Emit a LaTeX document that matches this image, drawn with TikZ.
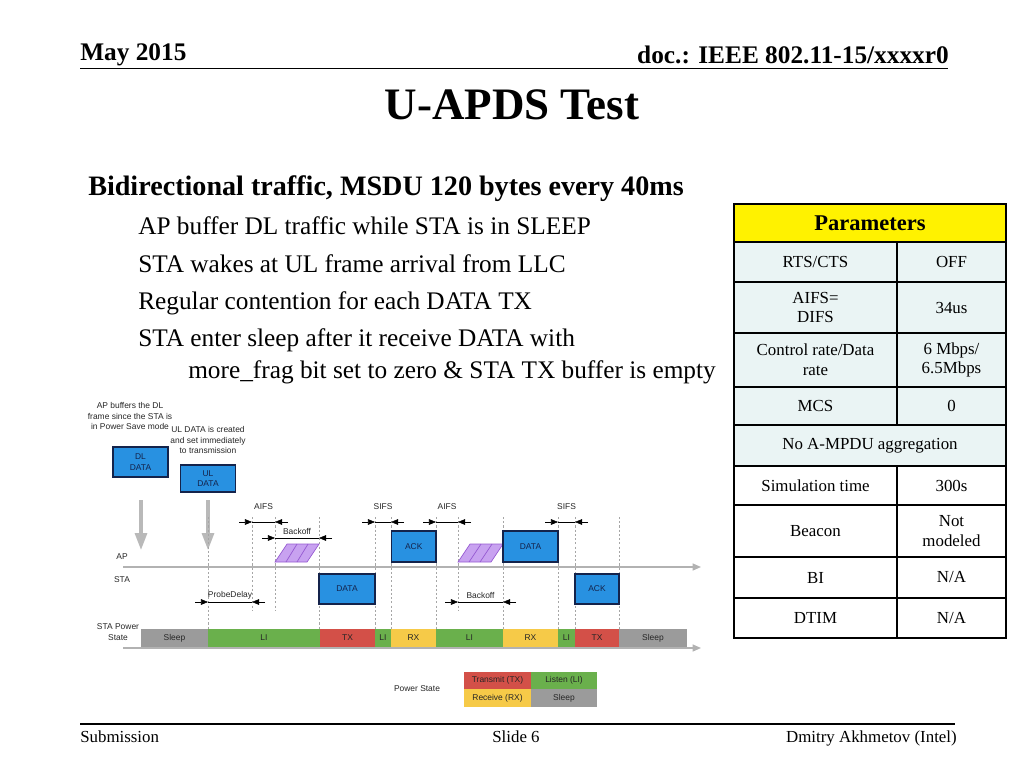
\documentclass[tikz,border=0pt]{standalone}
\usepackage{fontspec}
\setmainfont{Liberation Serif}
\newfontfamily\diagfont{Liberation Sans}
\usepackage{tikz}
\usetikzlibrary{positioning, arrows.meta}

\definecolor{boxblue}{RGB}{40,145,225}
\definecolor{boxedge}{RGB}{20,35,75}
\definecolor{lgreen}{RGB}{106,176,76}
\definecolor{lred}{RGB}{211,80,72}
\definecolor{lyellow}{RGB}{246,202,72}
\definecolor{lgray}{RGB}{155,155,155}
\definecolor{lpurple}{RGB}{200,162,240}
\definecolor{ledge}{RGB}{150,90,210}
\definecolor{cellcyan}{RGB}{234,244,244}

\newcommand\pxu{0.025cm}
% dimension arrows between two markers
\newcommand\dimspan[3]{%
  \draw[dimtip] (#1-13,#3) -- (#1,#3);
  \draw[line width=0.4pt] (#1,#3) -- (#2,#3);
  \draw[dimtip] (#2+13,#3) -- (#2,#3);}

\begin{document}
\begin{tikzpicture}[
        x=0.025cm, y=-0.025cm,
        hdr/.style={font=\bfseries\fontsize{18}{20}\selectfont, inner sep=0pt},
        bullet/.style={anchor=base west, font=\fontsize{18}{21}\selectfont, inner sep=0pt},
        cell/.style={draw=black, line width=1pt, font=\fontsize{12}{14}\selectfont, align=center, inner sep=0pt},
        tiny/.style={font=\diagfont\fontsize{6}{7.5}\selectfont, text=black!85, inner sep=0pt, align=center},
        frame/.style={draw=boxedge, fill=boxblue, line width=0.8pt, font=\diagfont\fontsize{6}{7.5}\selectfont, text=boxedge, align=center, inner sep=0pt},
        seg/.style={fill=#1, font=\diagfont\fontsize{6}{7}\selectfont, text=black!85, inner sep=0pt, minimum height=18*\pxu},
        marker/.style={draw=gray!70, dash pattern=on 1.5pt off 1.5pt, line width=0.5pt},
        dimtip/.style={-{Triangle[length=5pt,width=4pt]}, line width=0.4pt},
        backoff/.style={draw=ledge, fill=lpurple, line width=0.5pt},
        timeline/.style={draw=gray!60, line width=1pt, -{Triangle[length=6pt,width=5pt]}},
        wake/.style={draw=gray!55, line width=2.2pt, -{Triangle[length=12pt,width=8.5pt]}}
        ]
        \useasboundingbox (0,0) rectangle (1024,768);

        % Header
        \node[hdr, anchor=base west] (date) at (80,61) {May 2015};
        \node[hdr, anchor=base east] (doc) at (949,64) {doc.: IEEE 802.11-15/xxxxr0};
        \draw[line width=1pt] (80,68.5) -- (948,68.5);
        \node[anchor=base, inner sep=0pt, font=\bfseries\fontsize{32}{36}\selectfont] (title) at (512,120) {U-APDS Test};

        % Text
        \node[anchor=base west, inner sep=0pt, font=\bfseries\fontsize{20}{24}\selectfont] (lead) at (88,195) {Bidirectional traffic, MSDU 120 bytes every 40ms};
        \node[bullet] (b1) at (138,234) {AP buffer DL traffic while STA is in SLEEP};
        \node[bullet] (b2) at (138,272) {STA wakes at UL frame arrival from LLC};
        \node[bullet] (b3) at (138,309) {Regular contention for each DATA TX};
        \node[bullet] (b4) at (138,346) {STA enter sleep after it receive DATA with};
        \node[bullet] (b5) at (188,378) {more\_frag bit set to zero \& STA TX buffer is empty};

        % Parameters table
        \node[cell, fill=yellow, minimum width=272*\pxu, minimum height=38*\pxu, font=\bfseries\fontsize{16}{18}\selectfont] (par) at (870,223) {Parameters};
        \foreach \t/\b/\l/\v/\c [count=\i] in {
            242/282/{RTS/CTS}/OFF/cellcyan,
            282/333/{AIFS=\\DIFS}/34us/cellcyan,
            333/387/{Control rate/Data\\rate}/{6 Mbps/\\6.5Mbps}/cellcyan,
            387/425/MCS/0/cellcyan,
            466/505/Simulation time/300s/white,
            505/557/Beacon/{Not\\modeled}/white,
            557/598/BI/{N/A}/white,
            598/638/DTIM/{N/A}/white}
        {
            \node[cell, fill=\c, minimum width=163*\pxu, minimum height=(\b-\t)*\pxu] (k\i) at (815.5,{(\t+\b)/2}) {\l};
            \node[cell, fill=\c, minimum width=109*\pxu, minimum height=(\b-\t)*\pxu] (v\i) at (951.5,{(\t+\b)/2}) {\v};
        }
        \node[cell, fill=cellcyan, minimum width=272*\pxu, minimum height=41*\pxu] (ampdu) at (870,445.5) {No A-MPDU aggregation};

        % Notes and buffered frames
        \node[tiny] (note1) at (130,416) {AP buffers the DL\\frame since the STA is\\in Power Save mode};
        \node[tiny] (note2) at (208,440) {UL DATA is created\\and set immediately\\to transmission};
        \node[frame, minimum width=55*\pxu, minimum height=30*\pxu] (dl) at (140.5,462) {DL\\DATA};
        \node[frame, minimum width=55*\pxu, minimum height=27*\pxu] (ul) at (208,478.5) {UL\\DATA};

        % Wake arrows
        \coordinate (dltop) at (141,500);
        \coordinate (dlend) at (141,550);
        \coordinate (ultop) at (208,500);
        \coordinate (ulend) at (208,550);
        \draw[wake] (dltop) -- (dlend);
        \draw[wake] (ultop) -- (ulend);

        % Markers
        \foreach \x in {208,319,375,391,436,503,558,575,619}
            \draw[marker] (\x,517) -- (\x,629);
        \foreach \x in {252,275,458}
            \draw[marker] (\x,517) -- (\x,610);

        % Time lines
        \coordinate (apstart) at (123,567);
        \coordinate (apend) at (701,567);
        \coordinate (psstart) at (123,648);
        \coordinate (psend) at (701,648);
        \draw[timeline] (apstart) -- (apend);
        \node[tiny] (ap) at (122,557) {AP};
        \node[tiny] (sta) at (122,580) {STA};
        \node[tiny] (stps) at (118,632) {STA Power\\State};

        % Intervals
        \dimspan{252}{275}{522}
        \dimspan{375}{391}{522}
        \dimspan{436}{458}{522}
        \dimspan{558}{575}{522}
        \dimspan{275}{319}{538}
        \dimspan{208}{252}{602}
        \dimspan{458}{503}{602}
        \node[tiny, fill=white] (aifs1) at (263.5,507) {AIFS};
        \node[tiny, fill=white] (sifs1) at (383,507) {SIFS};
        \node[tiny, fill=white] (aifs2) at (447,507) {AIFS};
        \node[tiny, fill=white] (sifs2) at (566.5,507) {SIFS};
        \node[tiny] (bo1) at (297,531) {Backoff};
        \node[tiny] (probe) at (230,595) {ProbeDelay};
        \node[tiny] (bo2) at (480.5,595) {Backoff};

        % Backoff slots
        \filldraw[backoff] (275,562) -- (287,544) -- (319,544) -- (307,562) -- cycle;
        \draw[backoff] (286,562) -- (297,544) (297,562) -- (308,544);
        \filldraw[backoff] (458,562) -- (470,544) -- (503,544) -- (491,562) -- cycle;
        \draw[backoff] (469,562) -- (481,544) (480,562) -- (492,544);

        % Frames
        \node[frame, minimum width=44.5*\pxu, minimum height=31*\pxu] (apack) at (413.75,546.5) {ACK};
        \node[frame, minimum width=55*\pxu, minimum height=31*\pxu] (apdata) at (530.5,546.5) {DATA};
        \node[frame, minimum width=56*\pxu, minimum height=30*\pxu] (stadata) at (347,589) {DATA};
        \node[frame, minimum width=44*\pxu, minimum height=30*\pxu] (staack) at (597,589) {ACK};

        % Power state
        \foreach \a/\b/\c/\l [count=\i] in {141/208/lgray/Sleep, 208/320/lgreen/LI, 320/375/lred/TX,
                375/391/lgreen/LI, 391/436/lyellow/RX, 436/503/lgreen/LI, 503/558/lyellow/RX,
                558/575/lgreen/LI, 575/619/lred/TX, 619/687/lgray/Sleep}
            \node[seg=\c, minimum width=(\b-\a)*\pxu] (s\i) at ({(\a+\b)/2},638) {\l};
        \draw[timeline] (psstart) -- (psend);

        % Legend
        \node[tiny] (pslab) at (417,689) {Power State};
        \node[seg=lred, minimum width=67*\pxu, minimum height=17*\pxu] (ltx) at (497.5,680.5) {Transmit (TX)};
        \node[seg=lgreen, minimum width=66*\pxu, minimum height=17*\pxu] (lli) at (564,680.5) {Listen (LI)};
        \node[seg=lyellow, minimum width=67*\pxu, minimum height=18*\pxu] (lrx) at (497.5,698) {Receive (RX)};
        \node[seg=lgray, minimum width=66*\pxu, minimum height=18*\pxu] (lsl) at (564,698) {Sleep};

        % Footer
        \draw[line width=0.8pt] (80,724) -- (955,724);
        \node[anchor=base west, inner sep=0pt, font=\fontsize{12}{14}\selectfont] (sub) at (80,742) {Submission};
        \node[anchor=base, inner sep=0pt, font=\fontsize{12}{14}\selectfont] (slide) at (516,742) {Slide 6};
        \node[anchor=base east, inner sep=0pt, font=\fontsize{12}{14}\selectfont] (auth) at (957,742) {Dmitry Akhmetov (Intel)};
\end{tikzpicture}
\end{document}
